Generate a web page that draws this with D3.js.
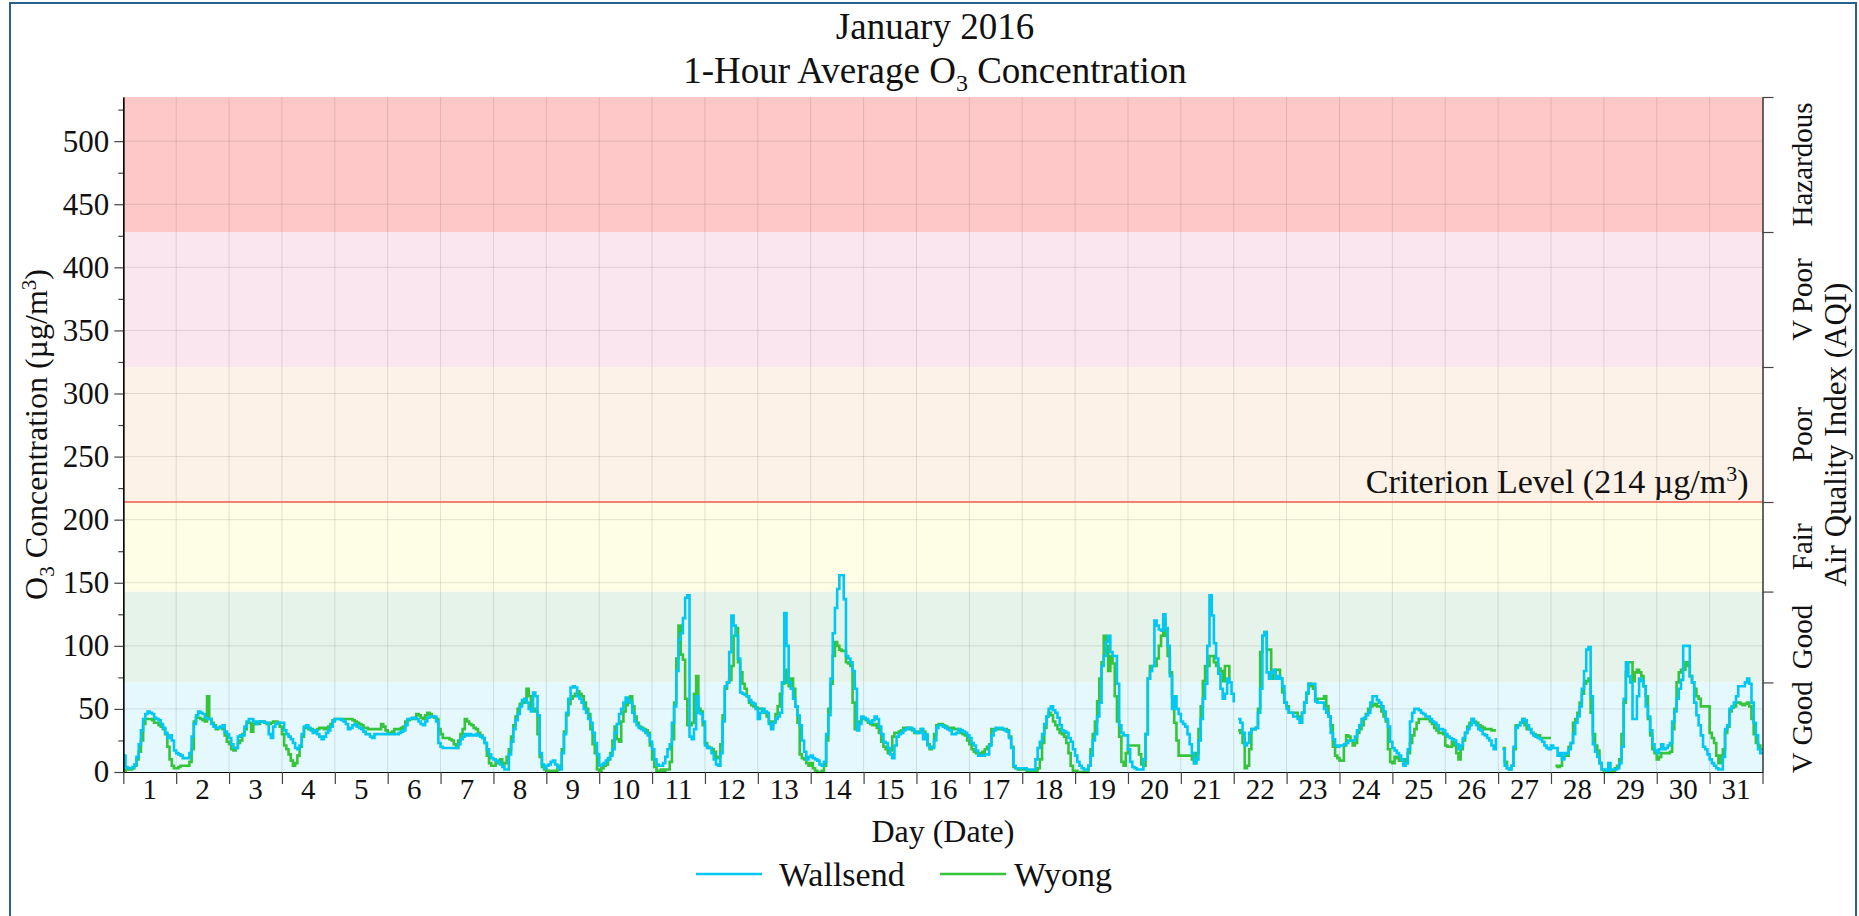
<!DOCTYPE html>
<html><head><meta charset="utf-8">
<script src="https://cdn.jsdelivr.net/npm/d3@7"></script>
<style>
body{margin:0;background:#fff}
svg{display:block}
text{font-family:"Liberation Serif","Times New Roman",serif;fill:#111}
</style>
</head><body>
<svg id="chart" width="1859" height="916"></svg>
<script>
// ---------------- DATA ----------------
const days = d3.range(1, 32);
const hoursPerDay = 24;
// Hourly 1-hour average O3 (µg/m³), Wallsend; one line per day (1..31)
const wallsend = [
13,4,3,3,4,6,12,22,33,42,46,48,47,46,43,42,41,38,35,31,27,29,25,17,
15,14,13,11,11,11,15,28,38,45,48,47,46,43,42,42,38,36,35,35,36,37,32,30,
27,22,19,19,28,29,29,36,40,42,42,40,38,40,40,40,39,39,30,27,36,38,39,39,
39,33,30,28,26,23,19,18,21,30,36,37,35,33,31,33,30,28,26,28,31,33,36,40,
42,42,42,41,40,38,34,35,37,38,36,35,34,32,30,30,28,27,30,30,30,30,30,30,
30,30,30,30,30,31,32,33,37,42,42,43,43,42,40,38,37,40,43,44,44,44,40,23,
20,19,19,19,19,19,19,19,22,26,28,30,29,30,29,29,30,29,28,27,23,18,14,11,
10,9,8,6,4,2,2,14,24,34,41,46,52,57,58,55,50,48,63,60,45,15,6,3,
5,6,8,9,6,4,2,15,30,47,58,67,68,67,60,58,55,50,47,42,39,31,23,14,
5,6,7,9,11,13,18,31,38,46,50,55,59,57,55,47,40,37,35,34,33,31,29,24,
18,10,6,5,5,7,12,18,22,39,52,80,105,110,122,138,140,28,26,34,60,47,46,40,
21,19,19,15,10,6,5,15,40,68,71,95,124,116,108,90,63,62,61,60,57,55,54,50,
42,47,50,48,47,38,34,39,42,44,47,71,126,100,71,66,58,52,45,37,25,16,10,12,
13,11,10,9,6,5,8,30,45,74,110,130,145,156,156,137,92,90,87,80,66,33,38,44,
43,42,40,39,41,44,42,36,30,24,23,19,14,11,21,28,30,31,33,34,35,35,34,32,
31,31,34,26,30,21,19,19,25,35,37,37,36,35,34,33,30,30,31,34,33,32,31,29,
27,23,21,17,13,13,13,14,14,21,29,33,35,35,35,34,33,32,27,19,5,3,3,3,
3,3,2,2,2,2,10,19,24,30,38,44,50,52,49,47,43,37,33,32,31,27,24,18,
13,8,5,3,2,2,5,13,25,30,44,55,84,92,103,108,95,92,92,70,37,31,29,29,
18,8,4,3,2,2,2,10,30,74,80,84,120,116,113,112,125,114,100,76,50,60,50,46,
40,38,36,30,22,15,7,10,25,42,58,70,100,140,124,102,90,78,66,58,62,74,71,62,
55,null,42,39,31,21,23,31,34,34,35,47,66,108,111,79,74,79,81,74,76,74,68,55,
50,47,47,44,44,42,39,47,55,63,70,70,70,56,55,55,55,50,47,44,31,26,21,20,
21,21,22,23,25,25,25,28,33,37,42,43,45,47,55,60,60,57,55,52,48,42,36,24,
19,17,15,13,10,5,7,18,40,47,50,50,49,47,46,44,44,42,40,39,37,34,34,33,
30,28,27,26,25,22,18,21,27,31,34,37,42,39,37,34,33,30,29,27,25,21,18,27,
null,null,18,5,3,2,5,20,35,37,39,42,41,37,34,31,29,28,27,26,24,21,19,18,
21,19,19,13,15,10,15,15,18,23,30,39,44,52,66,80,97,99,60,22,16,12,7,2,
2,1,7,2,2,2,3,7,20,58,87,76,71,42,42,60,74,72,68,52,44,33,22,17,
15,18,22,18,19,21,23,40,48,58,66,73,100,100,100,76,71,55,45,37,29,20,18,14,
10,7,5,3,2,2,12,34,37,50,52,55,60,68,68,68,71,74,70,55,39,29,18,15
];
// Hourly 1-hour average O3 (µg/m³), Wyong
const wyong = [
1,2,2,2,3,5,10,16,25,38,42,42,42,41,39,39,37,36,34,30,20,10,5,3,
3,4,5,5,5,5,8,18,40,43,43,42,41,40,60,42,39,37,34,35,35,34,29,24,
22,18,17,19,23,25,30,34,39,39,32,38,38,38,40,40,39,38,38,39,40,40,39,36,
30,21,18,14,9,5,7,13,20,28,35,35,34,34,33,33,34,35,35,34,35,36,38,41,
42,42,42,42,42,42,42,42,41,40,39,38,37,35,35,34,34,34,34,34,34,38,36,33,
31,31,32,34,34,34,35,36,40,41,42,42,43,46,45,43,42,45,47,46,44,43,42,34,
30,27,27,27,26,25,22,19,25,30,34,42,40,38,37,35,34,31,29,27,23,13,7,5,
5,7,8,10,6,7,12,18,28,37,44,50,54,55,56,66,60,50,50,48,30,12,4,2,
1,1,1,1,1,2,5,18,32,45,54,58,60,62,64,62,60,55,50,46,34,22,15,2,
1,3,5,6,10,15,25,36,26,24,40,48,53,58,60,52,44,39,36,35,34,33,31,21,
10,4,1,1,2,1,2,2,8,26,55,90,116,93,89,58,37,37,39,62,76,50,48,37,
23,20,19,18,16,11,12,22,45,66,71,73,84,108,114,87,79,70,66,60,55,53,52,51,
50,50,48,47,44,40,37,40,46,52,62,70,81,71,68,74,66,52,39,14,11,10,7,5,
7,3,1,0,0,1,5,25,50,70,92,103,100,97,96,96,87,86,84,55,34,37,40,42,
42,41,39,38,37,38,35,31,24,20,18,15,17,28,31,31,32,33,35,35,35,34,33,31,
31,32,34,32,29,22,18,20,30,37,38,38,37,36,35,35,35,34,34,33,31,30,29,25,
22,18,16,15,15,14,16,18,20,22,34,34,34,34,34,34,34,33,28,20,4,3,2,2,
2,2,1,1,1,1,1,3,10,23,35,44,47,45,40,37,34,31,30,28,23,15,5,1,
1,0,0,0,0,0,5,18,30,40,56,74,87,108,100,80,92,86,60,40,28,8,5,15,
21,21,21,21,21,14,6,5,30,74,84,84,84,90,100,108,121,108,92,79,60,39,25,13,
13,13,13,13,13,10,7,15,34,52,72,84,84,92,92,87,84,82,80,72,84,84,71,null,
null,null,33,31,23,3,5,18,34,34,35,50,95,108,111,97,97,74,79,81,81,74,63,55,
52,47,47,47,47,44,39,47,55,62,70,68,66,58,58,58,58,60,52,44,37,20,13,11,
9,9,21,29,28,25,21,23,31,34,37,42,46,50,52,53,54,52,52,48,44,40,18,8,
7,12,11,9,10,10,7,15,23,29,34,39,42,42,42,42,42,40,38,35,33,31,31,30,
21,20,20,24,21,15,10,18,25,31,36,39,42,40,39,37,36,35,34,34,34,33,33,33,
null,null,19,8,3,2,5,18,37,37,39,42,37,34,34,31,30,29,29,27,27,27,27,27,
27,null,5,4,5,11,13,13,20,23,39,42,47,55,62,70,72,74,47,30,21,17,7,2,
0,0,0,0,1,3,5,10,30,55,79,87,87,72,79,81,79,76,68,60,42,29,18,15,
10,12,15,15,15,15,16,34,50,71,79,81,81,87,84,76,71,66,60,58,52,52,52,52,
31,27,23,13,7,13,18,31,36,48,51,52,55,55,54,53,54,55,52,42,30,23,21,18
];
const seriesNames = ["Wallsend", "Wyong"];
const yTicks = [0, 50, 100, 150, 200, 250, 300, 350, 400, 450, 500];
const yMinorTicks = [25, 75, 125, 175, 225, 275, 325, 375, 425, 475, 525];
const yMax = 535;
const aqiLimits = [0, 71, 143, 214, 321, 428, 535];
const aqiNames = ["V Good", "Good", "Fair", "Poor", "V Poor", "Hazardous"];
const criterionLevel = 214;

// ---------------- STYLE ----------------
const aqiColors = ["#e4f8fd", "#e6f3ea", "#fefee6", "#fdf2e8", "#fae6ef", "#fec8c8"];
const seriesColors = ["#00c8f2", "#35c43a"];
const W = 1859, H = 916;
const plot = {l: 123.3, r: 1762.5, t: 97, b: 772};
const totalHours = days.length * hoursPerDay;
const FS = {title: 37, axisTitle: 32, yTick: 31, tick: 29, legend: 34, crit: 34, aqi: 29};

const svg = d3.select("#chart");
const x = d3.scaleLinear().domain([0, totalHours]).range([plot.l, plot.r]);
const y = d3.scaleLinear().domain([0, yMax]).range([plot.b, plot.t]);

svg.append("rect").attr("width", W).attr("height", H).attr("fill", "#fff");
svg.append("rect").attr("x", 10).attr("y", 3).attr("width", 1846).attr("height", 950)
  .attr("fill", "none").attr("stroke", "#2b5f8e").attr("stroke-width", 2);

// AQI bands
svg.append("g").selectAll("rect").data(aqiNames).join("rect")
  .attr("x", plot.l).attr("width", plot.r - plot.l)
  .attr("y", (d, i) => y(aqiLimits[i + 1]))
  .attr("height", (d, i) => y(aqiLimits[i]) - y(aqiLimits[i + 1]))
  .attr("fill", (d, i) => aqiColors[i]);

// grid
const grid = svg.append("g").attr("stroke", "#000").attr("stroke-opacity", 0.11).attr("stroke-width", 1);
grid.selectAll(".hg").data(yTicks.filter(v => v > 0)).join("line")
  .attr("x1", plot.l).attr("x2", plot.r).attr("y1", d => y(d)).attr("y2", d => y(d));
grid.selectAll(".vg").data(days.slice(0, -1)).join("line")
  .attr("y1", plot.t).attr("y2", plot.b).attr("x1", d => x(d * hoursPerDay)).attr("x2", d => x(d * hoursPerDay));

// criterion line
svg.append("line").attr("x1", plot.l).attr("x2", plot.r)
  .attr("y1", y(criterionLevel)).attr("y2", y(criterionLevel))
  .attr("stroke", "#ef5a4a").attr("stroke-width", 1.5);
const crit = svg.append("text").attr("x", plot.r - 14).attr("y", y(criterionLevel) - 9)
  .attr("text-anchor", "end").attr("font-size", FS.crit);
crit.append("tspan").text("Criterion Level (214 µg/m");
crit.append("tspan").attr("dy", -12).attr("font-size", 22).text("3");
crit.append("tspan").attr("dy", 12).text(")");

// series
const line = d3.line()
  .defined(d => d.v !== null)
  .x(d => x(d.h)).y(d => y(d.v))
  .curve(d3.curveStepAfter);
function pts(arr) {
  const p = arr.map((v, h) => ({h, v}));
  p.push({h: arr.length, v: arr[arr.length - 1]});
  return p;
}
const seriesData = [wallsend, wyong];
[1, 0].forEach(i => {
  svg.append("path").datum(pts(seriesData[i])).attr("d", line)
    .attr("fill", "none").attr("stroke", seriesColors[i]).attr("stroke-width", 2.6)
    .attr("stroke-linejoin", "miter");
});

// axes
function styleAxis(g, fs) {
  g.select(".domain").attr("stroke", "#000").attr("stroke-width", 1.2);
  g.selectAll(".tick line").attr("stroke", "#444").attr("stroke-width", 1.2);
  g.selectAll(".tick text").attr("font-family", "Liberation Serif, serif").attr("font-size", fs || FS.tick).attr("fill", "#111");
}
svg.append("g").attr("transform", `translate(${plot.l},0)`)
  .call(d3.axisLeft(y).tickValues(yMinorTicks).tickSize(5).tickSizeOuter(0).tickFormat(""))
  .call(styleAxis);
svg.append("g").attr("transform", `translate(${plot.l},0)`)
  .call(d3.axisLeft(y).tickValues(yTicks).tickSize(9).tickSizeOuter(0).tickPadding(5))
  .call(g => styleAxis(g, FS.yTick));

svg.append("g").attr("transform", `translate(0,${plot.b})`)
  .call(d3.axisBottom(x).tickValues(d3.range(0, totalHours + 1, hoursPerDay)).tickSize(12).tickSizeOuter(0).tickFormat(""))
  .call(styleAxis);
svg.append("g").selectAll("text").data(days).join("text")
  .attr("x", d => x((d - 0.5) * hoursPerDay)).attr("y", 799)
  .attr("text-anchor", "middle").attr("font-size", FS.tick).text(d => d);

svg.append("g").attr("transform", `translate(${plot.r},0)`)
  .call(d3.axisRight(y).tickValues(aqiLimits.slice(1)).tickSize(11).tickSizeOuter(0).tickFormat(""))
  .call(styleAxis);
svg.append("g").selectAll("text").data(aqiNames).join("text")
  .attr("transform", (d, i) => `translate(1812,${y((aqiLimits[i] + aqiLimits[i + 1]) / 2)}) rotate(-90)`)
  .attr("text-anchor", "middle").attr("font-size", FS.aqi).text(d => d);

// axis titles
svg.append("text").attr("x", (plot.l + plot.r) / 2).attr("y", 842)
  .attr("text-anchor", "middle").attr("font-size", FS.axisTitle).text("Day (Date)");
const yl = svg.append("text")
  .attr("transform", `translate(47,${(plot.t + plot.b) / 2}) rotate(-90)`)
  .attr("text-anchor", "middle").attr("font-size", FS.axisTitle);
yl.append("tspan").text("O");
yl.append("tspan").attr("dy", 7).attr("font-size", 21).text("3");
yl.append("tspan").attr("dy", -7).text(" Concentration (µg/m");
yl.append("tspan").attr("dy", -11).attr("font-size", 21).text("3");
yl.append("tspan").attr("dy", 11).text(")");
svg.append("text")
  .attr("transform", `translate(1846,${(plot.t + plot.b) / 2}) rotate(-90)`)
  .attr("text-anchor", "middle").attr("font-size", 31).text("Air Quality Index (AQI)");

// titles
svg.append("text").attr("x", 935).attr("y", 39).attr("text-anchor", "middle")
  .attr("font-size", FS.title).text("January 2016");
const t2 = svg.append("text").attr("x", 935).attr("y", 83).attr("text-anchor", "middle").attr("font-size", FS.title);
t2.append("tspan").text("1-Hour Average O");
t2.append("tspan").attr("dy", 8).attr("font-size", 24).text("3");
t2.append("tspan").attr("dy", -8).text(" Concentration");

// legend
const legendX = [696, 940];
const legendTextX = [779, 1014];
seriesNames.forEach((n, i) => {
  svg.append("line").attr("x1", legendX[i]).attr("x2", legendX[i] + 66)
    .attr("y1", 874).attr("y2", 874).attr("stroke", seriesColors[i]).attr("stroke-width", 2.6);
  svg.append("text").attr("x", legendTextX[i]).attr("y", 886).attr("font-size", FS.legend).text(n);
});
</script>
</body></html>
